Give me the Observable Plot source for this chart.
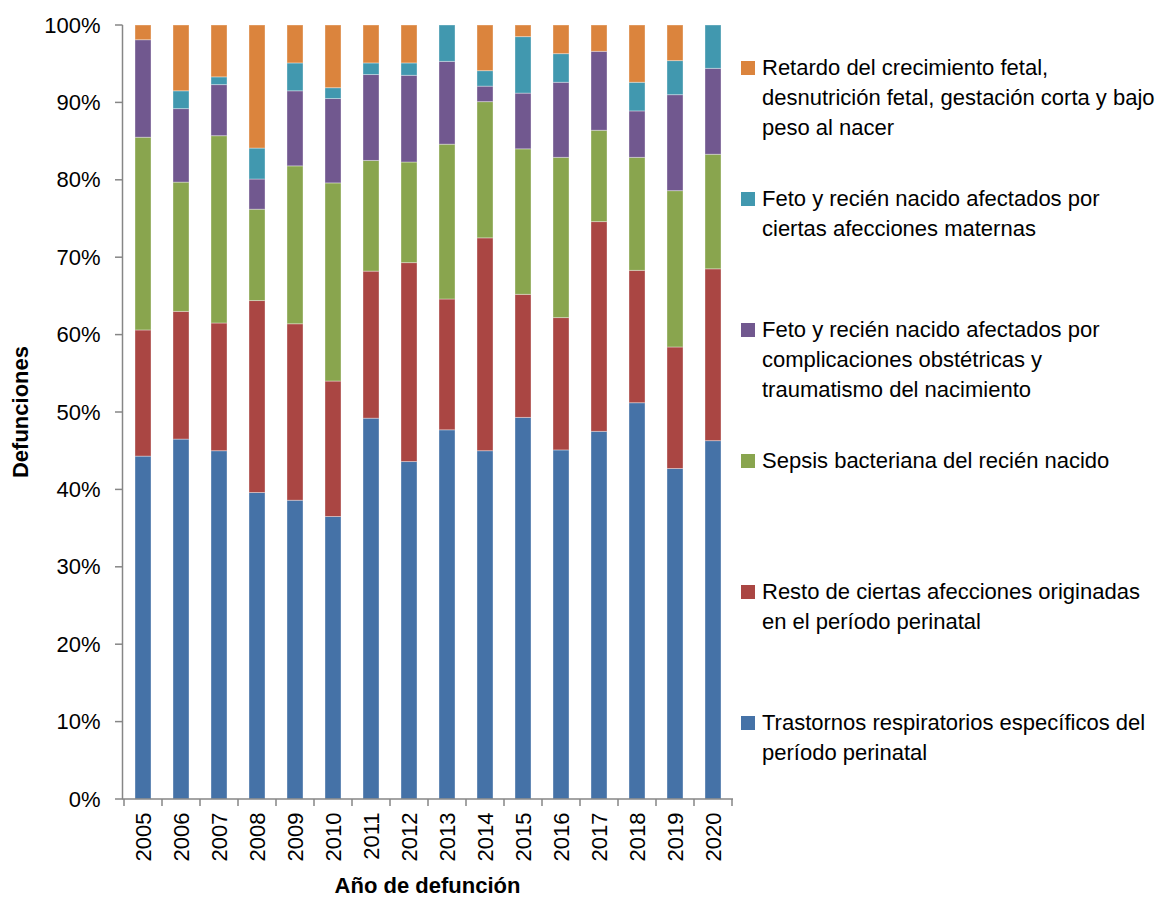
<!DOCTYPE html>
<html>
<head>
<meta charset="utf-8">
<script src="https://cdn.jsdelivr.net/npm/d3@7"></script>
<script src="https://cdn.jsdelivr.net/npm/@observablehq/plot@0.6"></script>
<style>
  html, body { margin: 0; padding: 0; background: #fff; }
  #wrap { position: relative; width: 1157px; height: 900px; font-family: 'Liberation Sans', Arial, sans-serif; }
  #chart { position: absolute; left: 0; top: 0; }
  #legend { position: absolute; left: 741px; top: 53px; }
  .item { position: absolute; left: 0; width: 416px; }
  .sw { position: absolute; left: 0; top: 8px; width: 14px; height: 14px; }
  .lbl { position: absolute; left: 21px; white-space: pre; font-size: 22px; line-height: 30px; color: #000; }
</style>
</head>
<body>
<div id="wrap">
  <div id="chart"></div>
  <div id="legend"></div>
</div>
<script>
const years = ["2005","2006","2007","2008","2009","2010","2011","2012","2013","2014","2015","2016","2017","2018","2019","2020"];

const series = [
  "Trastornos respiratorios específicos del período perinatal",
  "Resto de ciertas afecciones originadas en el período perinatal",
  "Sepsis bacteriana del recién nacido",
  "Feto y recién nacido afectados por complicaciones obstétricas y traumatismo del nacimiento",
  "Feto y recién nacido afectados por ciertas afecciones maternas",
  "Retardo del crecimiento fetal, desnutrición fetal, gestación corta y bajo peso al nacer"
];

// Legend labels as wrapped in the reference (same order as series)
const legendLabels = [
  "Trastornos respiratorios específicos del\nperíodo perinatal",
  "Resto de ciertas afecciones originadas\nen el período perinatal",
  "Sepsis bacteriana del recién nacido",
  "Feto y recién nacido afectados por\ncomplicaciones obstétricas y\ntraumatismo del nacimiento",
  "Feto y recién nacido afectados por\nciertas afecciones maternas",
  "Retardo del crecimiento fetal,\ndesnutrición fetal, gestación corta y bajo\npeso al nacer"
];

const colors = ["#4572A7", "#AA4643", "#89A54E", "#71588F", "#4198AF", "#DB843D"];

// Percent of deaths per year, bottom to top
const trastornos = [44.3, 46.5, 45.0, 39.6, 38.6, 36.5, 49.2, 43.6, 47.7, 45.0, 49.3, 45.1, 47.5, 51.2, 42.7, 46.3];
const resto      = [16.3, 16.5, 16.5, 24.8, 22.8, 17.5, 19.0, 25.7, 16.9, 27.5, 15.9, 17.1, 27.1, 17.1, 15.7, 22.2];
const sepsis     = [24.9, 16.7, 24.2, 11.8, 20.4, 25.6, 14.3, 13.0, 20.0, 17.6, 18.8, 20.7, 11.8, 14.6, 20.2, 14.8];
const complic    = [12.6,  9.5,  6.6,  3.9,  9.7, 10.9, 11.1, 11.2, 10.7,  2.0,  7.2,  9.7, 10.2,  6.0, 12.4, 11.1];
const maternas   = [ 0.0,  2.3,  1.0,  4.0,  3.6,  1.4,  1.5,  1.6,  4.7,  2.0,  7.3,  3.7,  0.0,  3.7,  4.4,  5.6];
const retardo    = [ 1.9,  8.5,  6.7, 15.9,  4.9,  8.1,  4.9,  4.9,  0.0,  5.9,  1.5,  3.7,  3.4,  7.4,  4.6,  0.0];

const yTicks = [0, 10, 20, 30, 40, 50, 60, 70, 80, 90, 100];
const xTitle = "Año de defunción";
const yTitle = "Defunciones";

const valuesBySeries = [trastornos, resto, sepsis, complic, maternas, retardo];
const data = [];
series.forEach((s, si) => {
  years.forEach((yr, i) => data.push({year: yr, series: s, value: valuesBySeries[si][i]}));
});

const axisColor = "#868686";

function axesMark(index, scales, values, dimensions) {
  const x = scales.x, y = scales.y;
  const {width, height, marginLeft, marginRight, marginTop, marginBottom} = dimensions;
  const step = x.step ? x.step() : (width - marginLeft - marginRight) / years.length;
  const bw = x.bandwidth ? x.bandwidth() : 0;
  const y0 = y(0);
  const g = d3.create("svg:g");
  g.append("line").attr("x1", marginLeft + 0.5).attr("x2", marginLeft + 0.5)
    .attr("y1", y(100)).attr("y2", y0).attr("stroke", axisColor).attr("stroke-width", 1.5);
  for (const t of yTicks) {
    g.append("line").attr("x1", marginLeft - 7).attr("x2", marginLeft + 0.5)
      .attr("y1", y(t)).attr("y2", y(t)).attr("stroke", axisColor).attr("stroke-width", 1.5);
  }
  g.append("line").attr("x1", marginLeft).attr("x2", width - marginRight)
    .attr("y1", y0).attr("y2", y0).attr("stroke", axisColor).attr("stroke-width", 1.5);
  const bounds = years.map(yr => x(yr) + bw / 2 - step / 2);
  bounds.push(x(years[years.length - 1]) + bw / 2 + step / 2);
  for (const b of bounds) {
    g.append("line").attr("x1", b).attr("x2", b).attr("y1", y0).attr("y2", y0 + 7)
      .attr("stroke", axisColor).attr("stroke-width", 1.5);
  }
  const cx = (marginLeft + width - marginRight) / 2;
  const cy = (marginTop + height - marginBottom) / 2;
  g.append("text").attr("x", cx).attr("y", height - 7)
    .attr("text-anchor", "middle").attr("font-weight", "bold").attr("font-size", 22)
    .attr("fill", "#000").text(xTitle);
  g.append("text").attr("transform", `translate(28,${cy}) rotate(-90)`)
    .attr("text-anchor", "middle").attr("font-weight", "bold").attr("font-size", 22)
    .attr("fill", "#000").text(yTitle);
  return g.node();
}

const chart = Plot.plot({
  width: 740,
  height: 900,
  marginLeft: 122,
  marginRight: 7,
  marginTop: 25,
  marginBottom: 101,
  style: {fontFamily: "'Liberation Sans', Arial, sans-serif", fontSize: "22px", color: "#000", background: "#fff"},
  x: {type: "band", domain: years, paddingInner: 0.58, paddingOuter: 0.29, tickRotate: -90, tickSize: 0, tickPadding: 13, label: null},
  y: {domain: [0, 100], ticks: 10, tickFormat: d => d + "%", tickSize: 0, tickPadding: 22, label: null},
  color: {domain: series, range: colors},
  marks: [
    Plot.barY(data, {x: "year", y: "value", fill: "series", stroke: "#ffffff", strokeOpacity: 0.35, strokeWidth: 1}),
    axesMark
  ]
});
document.getElementById("chart").appendChild(chart);

const legend = document.getElementById("legend");
const order = [5, 4, 3, 2, 1, 0];
order.forEach((si, k) => {
  const item = document.createElement("div");
  item.className = "item";
  item.style.top = (k * 131) + "px";
  const sw = document.createElement("div");
  sw.className = "sw";
  sw.style.background = colors[si];
  const lbl = document.createElement("div");
  lbl.className = "lbl";
  lbl.textContent = legendLabels[si];
  item.appendChild(sw);
  item.appendChild(lbl);
  legend.appendChild(item);
});
</script>
</body>
</html>
